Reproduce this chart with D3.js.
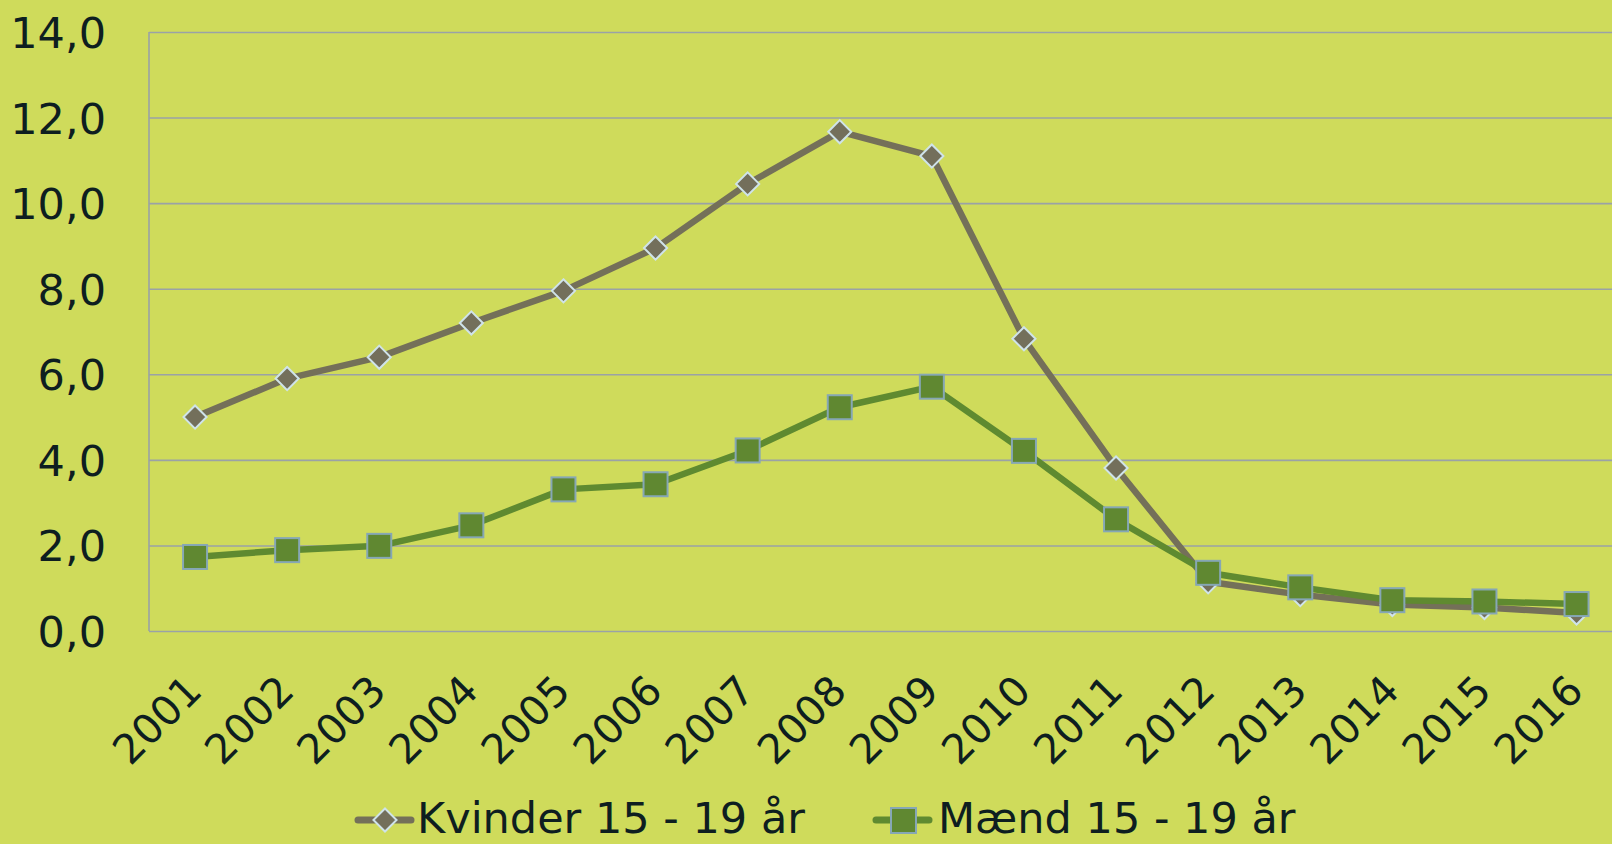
<!DOCTYPE html>
<html lang="da">
<head>
<meta charset="UTF-8">
<script src="https://cdn.jsdelivr.net/npm/d3@7"></script>
<style>
  html, body { margin: 0; padding: 0; background: #cfdb5b; }
  svg { display: block; font-family: "DejaVu Sans", Verdana, sans-serif; }
</style>
</head>
<body>
<div id="chart"></div>
<script>
// data
const years = ["2001","2002","2003","2004","2005","2006","2007","2008",
               "2009","2010","2011","2012","2013","2014","2015","2016"];
const kvinder = [5.0, 5.9, 6.4, 7.2, 7.95, 8.95, 10.45, 11.67, 11.1, 6.83, 3.81, 1.15, 0.85, 0.62, 0.55, 0.42];
const maend   = [1.73, 1.89, 1.99, 2.47, 3.31, 3.43, 4.22, 5.23, 5.71, 4.21, 2.61, 1.36, 1.02, 0.72, 0.69, 0.63];
const yTicks = [0, 2, 4, 6, 8, 10, 12, 14];
const legendNames = ["Kvinder 15 - 19 år", "Mænd 15 - 19 år"];

const W = 1612, H = 844;
const plotLeft = 149, plotTop = 32, plotBottom = 631;
const bandW = 92.1;

const svg = d3.select("#chart").append("svg")
  .attr("width", W).attr("height", H);

svg.append("rect").attr("width", W).attr("height", H).attr("fill", "#cfdb5b");

const x = d3.scaleBand().domain(years).range([plotLeft, plotLeft + years.length * bandW]);
const y = d3.scaleLinear().domain([0, 14]).range([plotBottom, plotTop]);
const cx = d => x(d) + x.bandwidth() / 2;

// gridlines
svg.append("g")
  .attr("transform", `translate(${plotLeft},0)`)
  .call(d3.axisLeft(y).tickValues(yTicks).tickSize(-(W - plotLeft)).tickFormat(""))
  .call(g => g.select(".domain").remove())
  .selectAll("line").attr("stroke", "#9aa2a6").attr("stroke-width", 1.6);

// y axis line
svg.append("line")
  .attr("x1", plotLeft).attr("x2", plotLeft).attr("y1", y(14)).attr("y2", y(0))
  .attr("stroke", "#9aa2a6").attr("stroke-width", 1.6);

// y tick labels
const yAxis = svg.append("g")
  .attr("transform", `translate(${plotLeft},0)`)
  .call(d3.axisLeft(y).tickValues(yTicks).tickSize(0).tickPadding(43)
    .tickFormat(d => d.toFixed(1).replace(".", ",")));
yAxis.select(".domain").remove();
yAxis.selectAll("text")
  .attr("font-size", 43).attr("fill", "#0e1e20")
  .attr("font-family", "DejaVu Sans, Verdana, sans-serif")
  .attr("dy", "0.36em");

// x tick labels, rotated
svg.append("g").selectAll("text").data(years).join("text")
  .attr("transform", d => `translate(${cx(d) + 9},${plotBottom + 62}) rotate(-45)`)
  .attr("text-anchor", "end")
  .attr("font-size", 41)
  .attr("fill", "#0e1e20")
  .text(d => d);

const line = d3.line().x((d, i) => cx(years[i])).y(d => y(d));

// Kvinder
svg.append("path").datum(kvinder)
  .attr("d", line).attr("fill", "none")
  .attr("stroke", "#747059").attr("stroke-width", 6.5).attr("stroke-linejoin", "round");
const diamond = d3.symbol().type(d3.symbolDiamond2).size(340);
svg.append("g").selectAll("path").data(kvinder).join("path")
  .attr("transform", (d, i) => `translate(${cx(years[i])},${y(d)})`)
  .attr("d", diamond)
  .attr("fill", "#736f5b").attr("stroke", "#cfe3ea").attr("stroke-width", 2);

// Mænd
svg.append("path").datum(maend)
  .attr("d", line).attr("fill", "none")
  .attr("stroke", "#5f8a30").attr("stroke-width", 6.5).attr("stroke-linejoin", "round");
svg.append("g").selectAll("rect").data(maend).join("rect")
  .attr("x", (d, i) => cx(years[i]) - 12).attr("y", d => y(d) - 12)
  .attr("width", 24).attr("height", 24)
  .attr("fill", "#608831").attr("stroke", "#86a7b5").attr("stroke-width", 2);

// legend (kept just inside the bottom edge)
const legY = 820, legBase = 833;
const leg = svg.append("g");
const k = leg.append("g").attr("transform", "translate(355,0)");
k.append("line").attr("x1", 3).attr("x2", 56).attr("y1", legY).attr("y2", legY)
  .attr("stroke", "#747059").attr("stroke-width", 7).attr("stroke-linecap", "round");
k.append("path").attr("transform", `translate(30,${legY})`).attr("d", diamond)
  .attr("fill", "#736f5b").attr("stroke", "#cfe3ea").attr("stroke-width", 2);
k.append("text").attr("x", 62).attr("y", legBase)
  .attr("font-size", 43).attr("fill", "#0e1e20").text(legendNames[0]);

const m = leg.append("g").attr("transform", "translate(873,0)");
m.append("line").attr("x1", 3).attr("x2", 56).attr("y1", legY).attr("y2", legY)
  .attr("stroke", "#5f8a30").attr("stroke-width", 7).attr("stroke-linecap", "round");
m.append("rect").attr("x", 30 - 12).attr("y", legY - 12).attr("width", 25).attr("height", 25)
  .attr("fill", "#608831").attr("stroke", "#86a7b5").attr("stroke-width", 2);
m.append("text").attr("x", 65).attr("y", legBase)
  .attr("font-size", 43).attr("fill", "#0e1e20").text(legendNames[1]);
</script>
</body>
</html>
